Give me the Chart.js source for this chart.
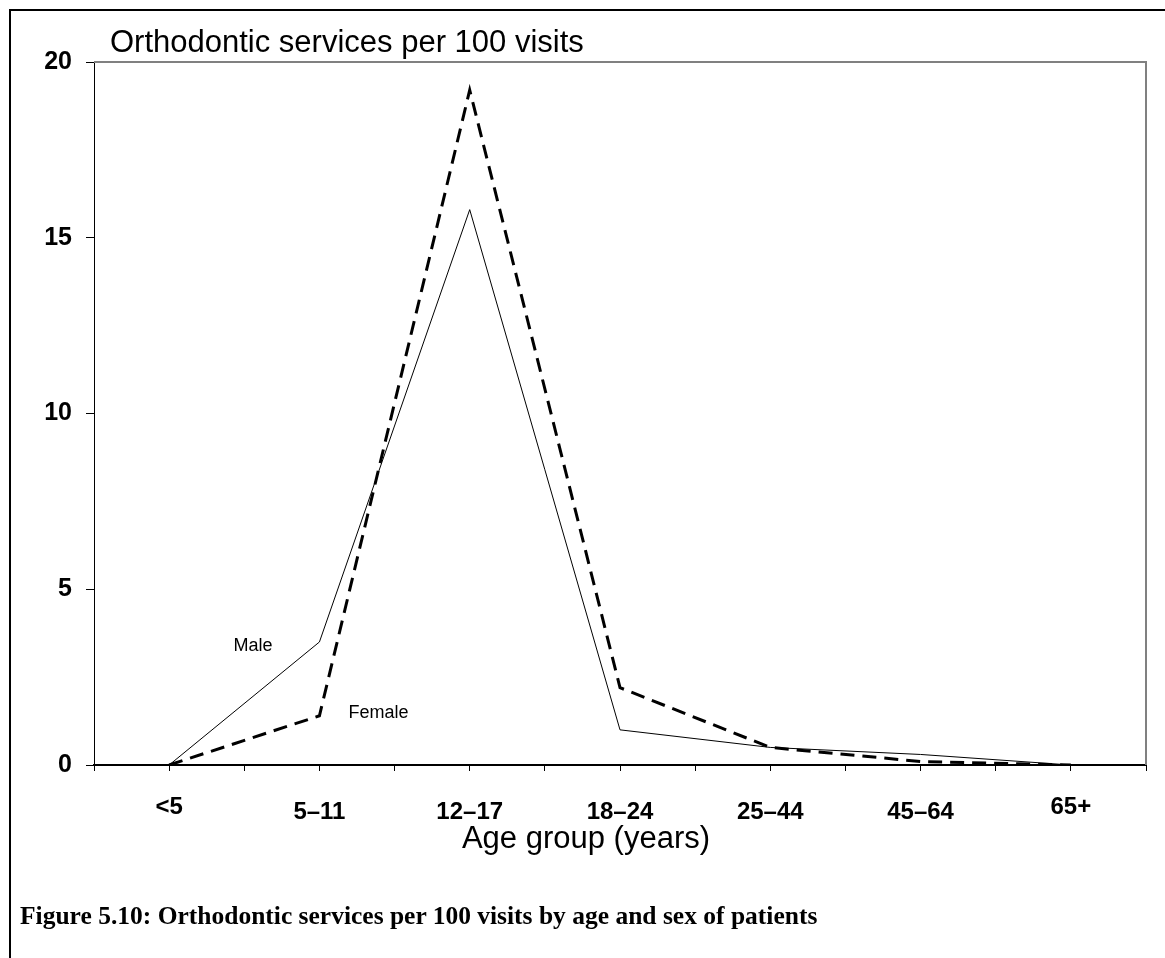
<!DOCTYPE html>
<html>
<head>
<meta charset="utf-8">
<title>Orthodontic services per 100 visits</title>
<script src="https://cdn.jsdelivr.net/npm/chart.js@4.4.1/dist/chart.umd.min.js"></script>
<style>
    html, body { margin: 0; padding: 0; background: #fff; overflow: hidden; }
    body { width: 1165px; height: 958px; position: relative; }
    .frame {
        position: absolute; left: 9px; top: 9px;
        width: 1300px; height: 1100px;
        border-left: 2px solid #000; border-top: 2px solid #000;
    }
    .chart-box { position: absolute; left: 0; top: 0; width: 1165px; height: 958px; }
    .caption {
        position: absolute; left: 20px; top: 903px;
        font: bold 25.5px 'Liberation Serif', 'Times New Roman', serif;
        line-height: 25px; color: #000; white-space: nowrap;
    }
</style>
</head>
<body>
<div class="frame"></div>
<div class="chart-box"><canvas id="orthoChart" width="1165" height="958"></canvas></div>
<div class="caption">Figure 5.10: Orthodontic services per 100 visits by age and sex of patients</div>

<script>
// Данные графика
const ageGroups = ['<5', '5–11', '12–17', '18–24', '25–44', '45–64', '65+'];
const maleValues = [0, 3.5, 15.8, 1.0, 0.5, 0.3, 0];
const femaleValues = [0, 1.4, 19.2, 2.2, 0.5, 0.1, 0];
const yTicks = [0, 5, 10, 15, 20];

const chartTitle = 'Orthodontic services per 100 visits';
const xAxisTitle = 'Age group (years)';

const sansFont = "'Liberation Sans', Arial, sans-serif";

// точки для линейной оси x (индекс категории -> значение)
function toPoints(values) {
    return values.map((v, i) => ({ x: i, y: v }));
}

// Рамка области графика и подписи
const decorPlugin = {
    id: 'decor',
    afterDraw(chart) {
        const ctx = chart.ctx;
        const area = chart.chartArea;
        const xs = chart.scales.x;
        const ys = chart.scales.y;

        ctx.save();
        // серая рамка сверху и справа
        ctx.strokeStyle = '#808080';
        ctx.lineWidth = 2;
        ctx.beginPath();
        ctx.moveTo(area.left, area.top);
        ctx.lineTo(area.right, area.top);
        ctx.lineTo(area.right, area.bottom);
        ctx.stroke();

        ctx.fillStyle = '#000';
        ctx.textBaseline = 'alphabetic';

        // заголовок
        ctx.font = '31px ' + sansFont;
        ctx.textAlign = 'left';
        ctx.fillText(chartTitle, area.left + 16, 52);

        // подпись оси x
        ctx.textAlign = 'center';
        ctx.fillText(xAxisTitle, 586, 848);

        // подписи серий возле точки 5–11
        ctx.font = '18px ' + sansFont;
        ctx.textAlign = 'left';
        ctx.fillText('Male', xs.getPixelForValue(1) - 86, ys.getPixelForValue(maleValues[1]) + 9);
        ctx.fillText('Female', xs.getPixelForValue(1) + 29, ys.getPixelForValue(femaleValues[1]) + 2);
        ctx.restore();
    }
};

const ctx = document.getElementById('orthoChart').getContext('2d');
const orthoChart = new Chart(ctx, {
    type: 'line',
    data: {
        datasets: [
            {
                label: 'Male',
                data: toPoints(maleValues),
                borderColor: '#000',
                borderWidth: 1,
                pointRadius: 0,
                tension: 0,
                fill: false
            },
            {
                label: 'Female',
                data: toPoints(femaleValues),
                borderColor: '#000',
                borderWidth: 3,
                borderDash: [14, 8],
                pointRadius: 0,
                tension: 0,
                fill: false
            }
        ]
    },
    options: {
        responsive: false,
        animation: false,
        events: [],
        layout: {
            padding: { left: 0, top: 62, right: 19, bottom: 0 }
        },
        plugins: {
            legend: { display: false },
            tooltip: { enabled: false },
            title: { display: false }
        },
        scales: {
            x: {
                type: 'linear',
                min: -0.5,
                max: ageGroups.length - 0.5,
                border: { display: true, color: '#000', width: 2 },
                grid: {
                    drawOnChartArea: false,
                    drawTicks: true,
                    tickLength: 6,
                    color: '#000',
                    lineWidth: 1
                },
                ticks: {
                    stepSize: 0.5,
                    autoSkip: false,
                    maxRotation: 0,
                    minRotation: 0,
                    padding: 27,
                    color: '#000',
                    // крайние подписи (<5 и 65+) чуть выше остальных
                    font: (c) => {
                        const v = c.tick ? c.tick.value : null;
                        const raised = v === 0 || v === ageGroups.length - 1;
                        return { family: sansFont, size: 24, weight: 'bold', lineHeight: raised ? 0.78 : 1.2 };
                    },
                    callback: value => Number.isInteger(value) ? ageGroups[value] : ''
                },
                afterFit(scale) {
                    scale.height = 958 - 765;
                    scale.paddingLeft = 0;
                    scale.paddingRight = 0;
                }
            },
            y: {
                min: yTicks[0],
                max: yTicks[yTicks.length - 1],
                border: { display: true, color: '#000', width: 1 },
                grid: {
                    drawOnChartArea: false,
                    drawTicks: true,
                    tickLength: 8,
                    color: '#000',
                    lineWidth: 1
                },
                afterBuildTicks(scale) {
                    scale.ticks = yTicks.map(v => ({ value: v }));
                },
                ticks: {
                    padding: 14,
                    color: '#000',
                    font: { family: sansFont, size: 25, weight: 'bold' }
                },
                afterFit(scale) {
                    scale.width = 94;
                }
            }
        }
    },
    plugins: [decorPlugin]
});
</script>
</body>
</html>
